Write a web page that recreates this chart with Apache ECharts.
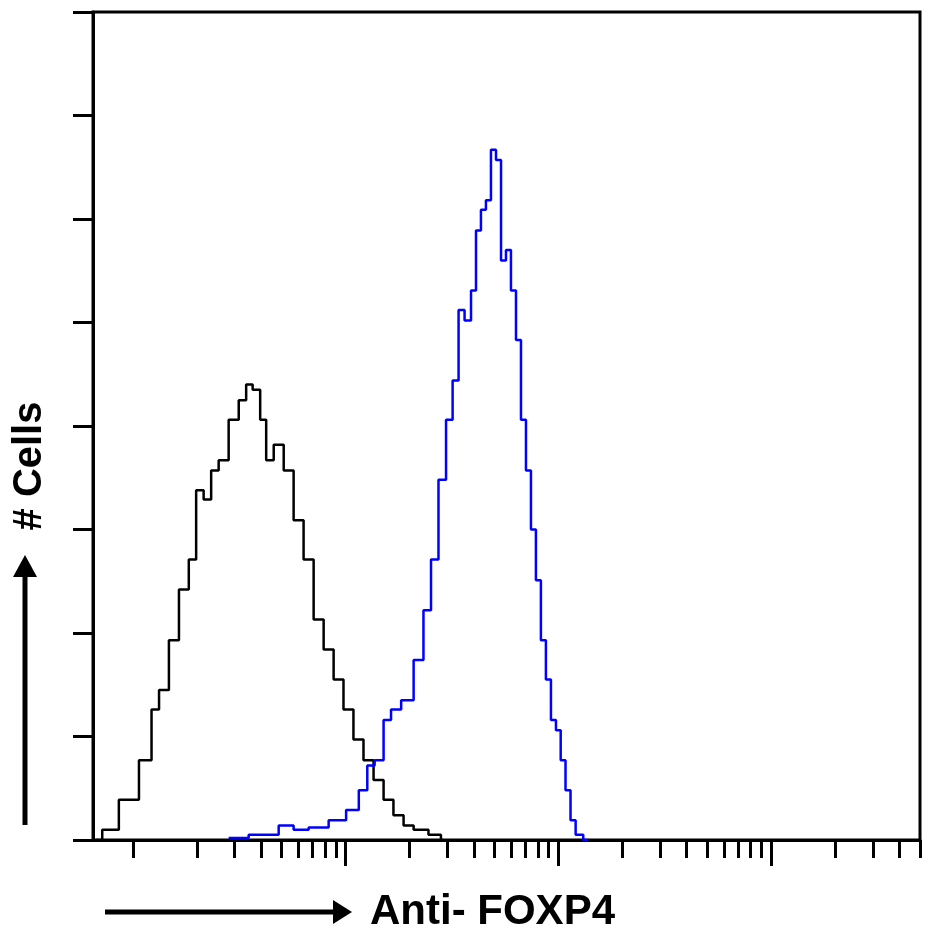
<!DOCTYPE html>
<html><head><meta charset="utf-8">
<script src="https://cdn.jsdelivr.net/npm/echarts@6/dist/echarts.min.js"></script>
<style>html,body{margin:0;padding:0;background:#fff}#c{width:939px;height:935px}</style>
</head><body><div id="c"></div>
<script>
const controlX = [0.67,0.77,0.96,1.19,1.26,1.40,1.56,1.74,1.93,2.04,2.27,2.40,2.67,2.98,3.32,3.50,3.82,4.12,4.35,4.85,5.40,6.01,6.70,7.47,8.32,9.27,10.3,11.5,12.8,14.3,15.9,17.7,19.8,22.0,27.3,28.8];
const controlY = [0,0.10,0.39,0.77,1.26,1.45,1.93,2.42,2.71,3.38,3.29,3.57,3.67,4.06,4.25,4.40,4.35,4.06,3.67,3.82,3.57,3.09,2.71,2.13,1.84,1.55,1.26,0.97,0.77,0.58,0.39,0.24,0.14,0.10,0.05,0];
const foxX = [2.82,4.35,5.40,6.01,7.47,9.27,10.9,12.2,13.1,14.3,15.9,16.8,19.8,22.0,24.5,25.9,28.8,30.5,33.2,34.7,37.8,39.9,42.1,44.4,46.9,49.5,52.3,55.2,58.2,61.5,64.9,68.5,72.3,76.3,80.5,85.0,89.7,94.8,100,105,111,117,124,138];
const foxY = [0.02,0.05,0.14,0.10,0.12,0.19,0.29,0.48,0.72,0.77,1.16,1.26,1.35,1.74,2.22,2.71,3.48,4.06,4.44,5.12,5.02,5.31,5.89,6.09,6.18,6.67,6.57,5.60,5.70,5.31,4.83,4.06,3.57,3.00,2.51,1.93,1.55,1.16,1.06,0.77,0.48,0.19,0.05,0];
const minorTicks = [1,2,3,4,5,6,7,8,9,20,30,40,50,60,70,80,90,200,300,400,500,600,700,800,900,2000,3000,4000,5000];
const majorTicks = [10,100,1000];
const xMin = 0.65, xMax = 5000;

const chart = echarts.init(document.getElementById('c'));
const zip = (a,b)=>a.map((v,i)=>[v,b[i]]);
const xBase = {type:'log', min:xMin, max:xMax, position:'bottom',
  axisLine:{show:true,lineStyle:{color:'#000',width:3}}, axisLabel:{show:false}, splitLine:{show:false}};
chart.setOption({
  animation:false,
  grid:{left:93,right:19,top:12,bottom:95,show:true,borderColor:'#000',borderWidth:3},
  xAxis:[
    Object.assign({}, xBase, {axisTick:{show:true,inside:false,length:18,customValues:minorTicks,lineStyle:{color:'#000',width:3}}}),
    Object.assign({}, xBase, {axisTick:{show:true,inside:false,length:26,customValues:majorTicks,lineStyle:{color:'#000',width:3}}})
  ],
  yAxis:{type:'value',min:0,max:8,interval:1,
    axisLine:{show:true,lineStyle:{color:'#000',width:3}},
    axisTick:{show:true,length:20,lineStyle:{color:'#000',width:3}},
    axisLabel:{show:false},splitLine:{show:false}},
  series:[
    {type:'line',step:'middle',symbol:'none',data:zip(controlX,controlY),lineStyle:{color:'#000',width:2.5}},
    {type:'line',step:'middle',symbol:'none',data:zip(foxX,foxY),lineStyle:{color:'#0000ff',width:2.5}}
  ],
  graphic:[
    {type:'text',x:30,y:466,rotation:Math.PI/2,style:{text:'# Cells',font:'bold 40px "Liberation Sans", Arial',fill:'#000',align:'center',verticalAlign:'middle'}},
    {type:'line',shape:{x1:25,y1:825,x2:25,y2:575},style:{stroke:'#000',lineWidth:5}},
    {type:'polygon',shape:{points:[[13,577],[37,577],[25,555]]},style:{fill:'#000'}},
    {type:'line',shape:{x1:105,y1:912,x2:335,y2:912},style:{stroke:'#000',lineWidth:5}},
    {type:'polygon',shape:{points:[[333,900],[333,924],[352,912]]},style:{fill:'#000'}},
    {type:'text',x:370,y:912,style:{text:'Anti- FOXP4',font:'bold 42px "Liberation Sans", Arial',fill:'#000',verticalAlign:'middle'}}
  ]
});
</script></body></html>
